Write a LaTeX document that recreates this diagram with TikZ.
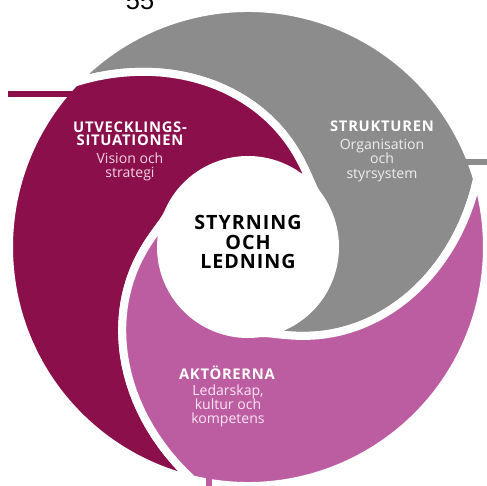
\documentclass[tikz,border=0pt]{standalone}
\usepackage{fontspec}
\setmainfont{Open Sans}
\newfontfamily\sidfont{Liberation Sans}
\newfontfamily\sparrad[LetterSpace=5]{Open Sans}
\usepackage{tikz}
\usetikzlibrary{positioning}

\definecolor{vinred}{HTML}{8A0F4B}
\definecolor{stengra}{HTML}{8C8C8C}
\definecolor{ljuslila}{HTML}{BD5DA1}
\definecolor{vinljus}{HTML}{F2D3E2}
\definecolor{gralj}{HTML}{EEEEEE}
\definecolor{lilaljus}{HTML}{FAE6F3}

\begin{document}
\begin{tikzpicture}[x=0.025cm,y=0.025cm,
			blade/.style={draw=white,line width=0.2cm,line join=round},
			pointer/.style={line width=0.13cm},
			rubrik/.style={text=white,font=\sparrad\bfseries\fontsize{10.5}{9.5}\selectfont,align=center,inner sep=0pt},
			undertext/.style={font=\fontsize{10}{10}\selectfont,align=center,inner sep=0pt},
			mitt/.style={font=\sparrad\bfseries\fontsize{14}{14.2}\selectfont,align=center,inner sep=0pt}]
			\useasboundingbox (-248,-239) rectangle (239,247);
			\clip (-248,-239) rectangle (239,247);
			
			\node[anchor=base west,font=\sidfont\fontsize{18}{18}\selectfont] (sidnr) at (-127,237) {55};
			
			% tre blad, vitt mellanrum vid vinkeln \g
			\foreach \g/\col in {16.5/stengra,136.5/vinred,256.5/ljuslila}
				\filldraw[blade,fill=\col]
					plot[domain=98:0,samples=40] ({\g-\x}:{87+152*(1-\x/98)*sqrt(1-\x/98)})
					arc[start angle=\g,end angle=\g+120,radius=239]
					-- plot[domain=0:98,samples=40] ({\g+120-\x}:{87+152*(1-\x/98)*sqrt(1-\x/98)})
					arc[start angle=\g+22,end angle=\g-98,radius=87]
					-- cycle;
			
			\coordinate (grahuvud) at (210,85);
			\coordinate (grakant) at (240,85);
			\coordinate (vinhuvud) at (-176,153);
			\coordinate (vinkant) at (-240,153);
			\coordinate (lilahuvud) at (-39,-225);
			\coordinate (lilakant) at (-39,-240);
			\draw[pointer,stengra] (grahuvud) -- (grakant);
			\draw[pointer,vinred] (vinhuvud) -- (vinkant);
			\draw[pointer,ljuslila] (lilahuvud) -- (lilakant);
			
			\node[rubrik] (utvhuvud) at (-118,113.5) {UTVECKLINGS-\\SITUATIONEN};
			\node[undertext,text=vinljus] (utvtext) at (-118,80) {Vision och\\strategi};
			\node[rubrik] (strhuvud) at (134,121) {STRUKTUREN};
			\node[undertext,text=gralj] (strtext) at (134,86.5) {Organisation\\och\\styrsystem};
			\node[mitt] (styrning) at (0,5) {STYRNING\\OCH\\LEDNING};
			\node[rubrik] (akthuvud) at (-21,-126) {AKTÖRERNA};
			\node[undertext,text=lilaljus] (akttext) at (-20,-159) {Ledarskap,\\kultur och\\kompetens};
		\end{tikzpicture}
\end{document}
